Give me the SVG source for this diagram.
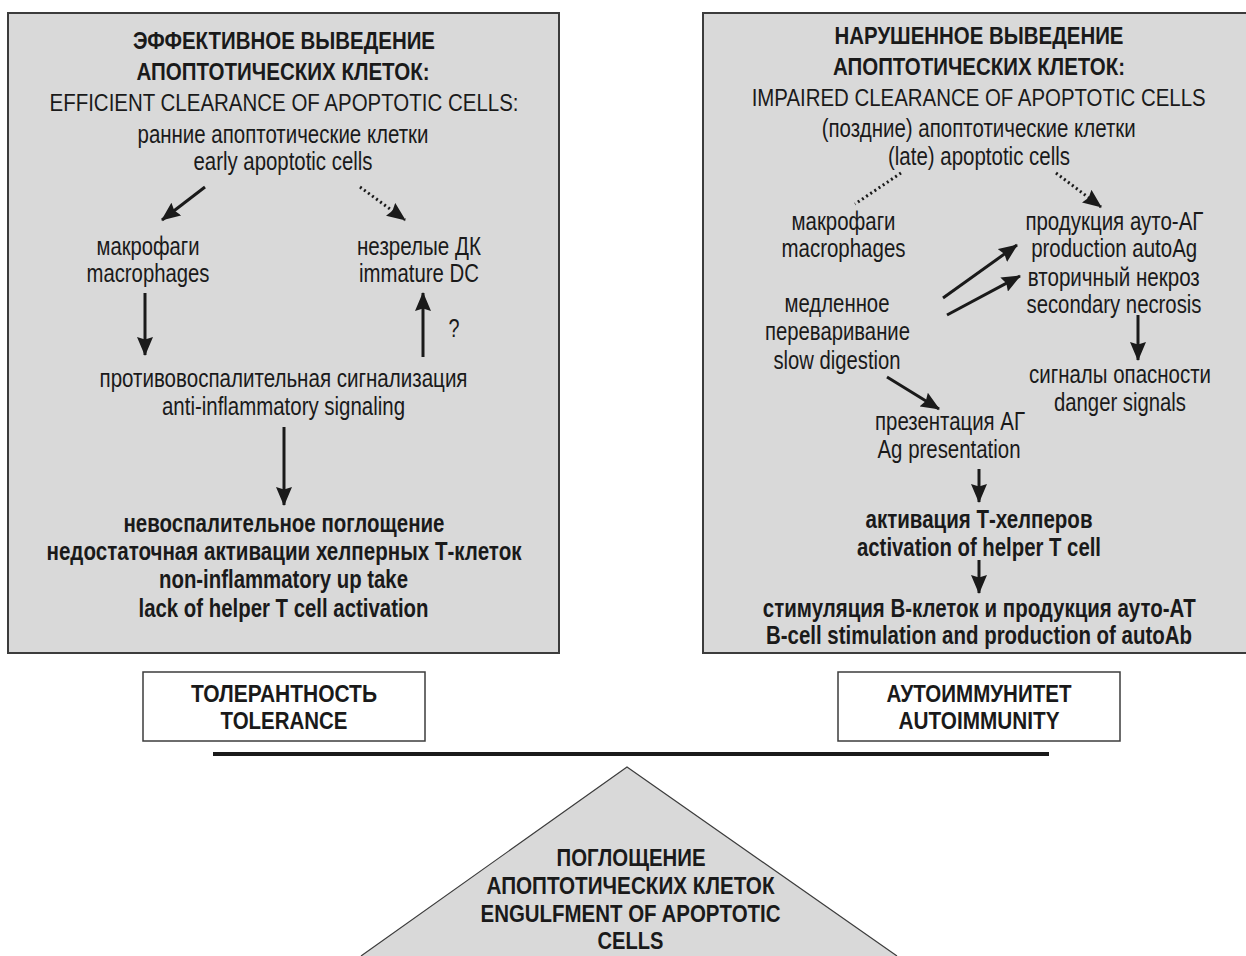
<svg xmlns="http://www.w3.org/2000/svg" width="1246" height="956" viewBox="0 0 1246 956">
<style>
text{font-family:"Liberation Sans",Arial,sans-serif;fill:#1a1a1a;text-anchor:middle;font-size:25px}
.b{font-weight:bold}
.h{font-weight:bold;font-size:24.5px}
.c{font-size:23px}
.cb{font-weight:bold;font-size:23px}
.panel{fill:#d9d9d9;stroke:#3c3c3c;stroke-width:2}
.fill{fill:#d9d9d9}
.edge{fill:none;stroke:#3c3c3c;stroke-width:2}
.box{fill:#fff;stroke:#3c3c3c;stroke-width:1.5}
.ar{stroke:#1a1a1a;stroke-width:3;fill:none}
.dot{stroke:#1a1a1a;stroke-width:3;fill:none;stroke-dasharray:2 3}
</style>
<defs>
<marker id="ah" viewBox="0 0 19 16" refX="18" refY="8" markerUnits="userSpaceOnUse" markerWidth="19" markerHeight="16" orient="auto">
<path d="M0,0 L19,8 L0,16 L2.5,8 z" fill="#1a1a1a"/>
</marker>
</defs>

<g id="left-panel">
<rect class="panel" x="8" y="13" width="551" height="640"/>
<text class="h" x="284" y="49" textLength="302" lengthAdjust="spacingAndGlyphs">ЭФФЕКТИВНОЕ ВЫВЕДЕНИЕ</text>
<text class="h" x="283" y="80" textLength="293" lengthAdjust="spacingAndGlyphs">АПОПТОТИЧЕСКИХ КЛЕТОК:</text>
<text class="c" x="284" y="110.5" textLength="469" lengthAdjust="spacingAndGlyphs">EFFICIENT CLEARANCE OF APOPTOTIC CELLS:</text>
</g>
<g id="early-cells">
<text x="283" y="143" textLength="291" lengthAdjust="spacingAndGlyphs">ранние апоптотические клетки</text>
<text x="283" y="170" textLength="179" lengthAdjust="spacingAndGlyphs">early apoptotic cells</text>
</g>
<g id="macrophages-left">
<text x="148" y="255" textLength="103" lengthAdjust="spacingAndGlyphs">макрофаги</text>
<text x="148" y="282" textLength="123" lengthAdjust="spacingAndGlyphs">macrophages</text>
</g>
<g id="immature-dc">
<text x="419" y="255" textLength="124" lengthAdjust="spacingAndGlyphs">незрелые ДК</text>
<text x="419" y="282" textLength="120" lengthAdjust="spacingAndGlyphs">immature DC</text>
</g>
<g id="anti-inflammatory">
<text x="283.5" y="387" textLength="368" lengthAdjust="spacingAndGlyphs">противовоспалительная сигнализация</text>
<text x="283.5" y="415" textLength="243" lengthAdjust="spacingAndGlyphs">anti-inflammatory signaling</text>
</g>
<g id="non-inflammatory">
<text class="b" x="284" y="532" textLength="321" lengthAdjust="spacingAndGlyphs">невоспалительное поглощение</text>
<text class="b" x="284" y="560" textLength="475" lengthAdjust="spacingAndGlyphs">недостаточная активации хелперных Т-клеток</text>
<text class="b" x="283.5" y="588" textLength="249" lengthAdjust="spacingAndGlyphs">non-inflammatory up take</text>
<text class="b" x="283.5" y="617" textLength="290" lengthAdjust="spacingAndGlyphs">lack of helper T cell activation</text>
</g>

<g id="right-panel">
<rect class="fill" x="703" y="13" width="543" height="640"/>
<path class="edge" d="M1246,13 H703 V653 H1246"/>
<text class="h" x="979" y="44" textLength="289" lengthAdjust="spacingAndGlyphs">НАРУШЕННОЕ ВЫВЕДЕНИЕ</text>
<text class="h" x="979" y="75" textLength="292" lengthAdjust="spacingAndGlyphs">АПОПТОТИЧЕСКИХ КЛЕТОК:</text>
<text class="c" x="978.7" y="106" textLength="454" lengthAdjust="spacingAndGlyphs">IMPAIRED CLEARANCE OF APOPTOTIC CELLS</text>
</g>
<g id="late-cells">
<text x="978.7" y="137" textLength="314" lengthAdjust="spacingAndGlyphs">(поздние) апоптотические клетки</text>
<text x="979" y="165" textLength="182" lengthAdjust="spacingAndGlyphs">(late) apoptotic cells</text>
</g>
<g id="macrophages-right">
<text x="843.5" y="230" textLength="104" lengthAdjust="spacingAndGlyphs">макрофаги</text>
<text x="843.5" y="257" textLength="124" lengthAdjust="spacingAndGlyphs">macrophages</text>
</g>
<g id="autoag">
<text x="1114.4" y="230" textLength="178" lengthAdjust="spacingAndGlyphs">продукция ауто-АГ</text>
<text x="1114.2" y="257" textLength="166" lengthAdjust="spacingAndGlyphs">production autoAg</text>
<text x="1113.8" y="286" textLength="172" lengthAdjust="spacingAndGlyphs">вторичный некроз</text>
<text x="1114" y="313" textLength="175" lengthAdjust="spacingAndGlyphs">secondary necrosis</text>
</g>
<g id="slow-digestion">
<text x="837" y="312" textLength="105" lengthAdjust="spacingAndGlyphs">медленное</text>
<text x="837.5" y="340" textLength="145" lengthAdjust="spacingAndGlyphs">переваривание</text>
<text x="837" y="369" textLength="127" lengthAdjust="spacingAndGlyphs">slow digestion</text>
</g>
<g id="danger-signals">
<text x="1120" y="383" textLength="182" lengthAdjust="spacingAndGlyphs">сигналы опасности</text>
<text x="1120" y="411" textLength="132" lengthAdjust="spacingAndGlyphs">danger signals</text>
</g>
<g id="ag-presentation">
<text x="950" y="430" textLength="150" lengthAdjust="spacingAndGlyphs">презентация АГ</text>
<text x="949" y="458" textLength="143" lengthAdjust="spacingAndGlyphs">Ag presentation</text>
</g>
<g id="th-activation">
<text class="b" x="979" y="528" textLength="227" lengthAdjust="spacingAndGlyphs">активация Т-хелперов</text>
<text class="b" x="979" y="556" textLength="244" lengthAdjust="spacingAndGlyphs">activation of helper T cell</text>
</g>
<g id="b-cell">
<text class="b" x="979.3" y="617" textLength="433" lengthAdjust="spacingAndGlyphs">стимуляция В-клеток и продукция ауто-АТ</text>
<text class="b" x="979" y="644" textLength="426" lengthAdjust="spacingAndGlyphs">B-cell stimulation and production of autoAb</text>
</g>

<g id="tolerance">
<rect class="box" x="143" y="672" width="282" height="69"/>
<text class="cb" x="284" y="702" textLength="186" lengthAdjust="spacingAndGlyphs">ТОЛЕРАНТНОСТЬ</text>
<text class="cb" x="284" y="729" textLength="127" lengthAdjust="spacingAndGlyphs">TOLERANCE</text>
</g>
<g id="autoimmunity">
<rect class="box" x="838" y="672" width="282" height="69"/>
<text class="cb" x="979" y="702" textLength="185" lengthAdjust="spacingAndGlyphs">АУТОИММУНИТЕТ</text>
<text class="cb" x="979" y="729" textLength="161" lengthAdjust="spacingAndGlyphs">AUTOIMMUNITY</text>
</g>
<g id="balance-beam">
<line x1="213" y1="754" x2="1049" y2="754" stroke="#1a1a1a" stroke-width="4"/>
</g>
<g id="engulfment">
<path d="M361,956 L627,767 L897,956" fill="#d9d9d9" stroke="#3c3c3c" stroke-width="1.2"/>
<text class="cb" x="631" y="866" textLength="149" lengthAdjust="spacingAndGlyphs">ПОГЛОЩЕНИЕ</text>
<text class="cb" x="630.5" y="894" textLength="288" lengthAdjust="spacingAndGlyphs">АПОПТОТИЧЕСКИХ КЛЕТОК</text>
<text class="cb" x="630.5" y="922" textLength="300" lengthAdjust="spacingAndGlyphs">ENGULFMENT OF APOPTOTIC</text>
<text class="cb" x="630.5" y="949" textLength="66" lengthAdjust="spacingAndGlyphs">CELLS</text>
</g>

<g id="connectors">
<line class="ar" x1="205" y1="187" x2="162" y2="220" marker-end="url(#ah)"/>
<line class="dot" x1="360" y1="187" x2="405" y2="220" marker-end="url(#ah)"/>
<line class="ar" x1="145" y1="293" x2="145" y2="355" marker-end="url(#ah)"/>
<line class="ar" x1="423" y1="357" x2="423" y2="293" marker-end="url(#ah)"/>
<text x="454" y="337" textLength="11" lengthAdjust="spacingAndGlyphs" font-size="22">?</text>
<line class="ar" x1="284" y1="427" x2="284" y2="505" marker-end="url(#ah)"/>
<line class="dot" x1="901" y1="173" x2="855" y2="204"/>
<line class="dot" x1="1056" y1="173" x2="1101" y2="207" marker-end="url(#ah)"/>
<line class="ar" x1="943" y1="298" x2="1017" y2="245" marker-end="url(#ah)"/>
<line class="ar" x1="947" y1="315" x2="1020" y2="276" marker-end="url(#ah)"/>
<line class="ar" x1="1138" y1="315" x2="1138" y2="360" marker-end="url(#ah)"/>
<line class="ar" x1="887" y1="377" x2="939" y2="409" marker-end="url(#ah)"/>
<line class="ar" x1="979" y1="469" x2="979" y2="502" marker-end="url(#ah)"/>
<line class="ar" x1="979" y1="560" x2="979" y2="593" marker-end="url(#ah)"/>
</g>
</svg>
